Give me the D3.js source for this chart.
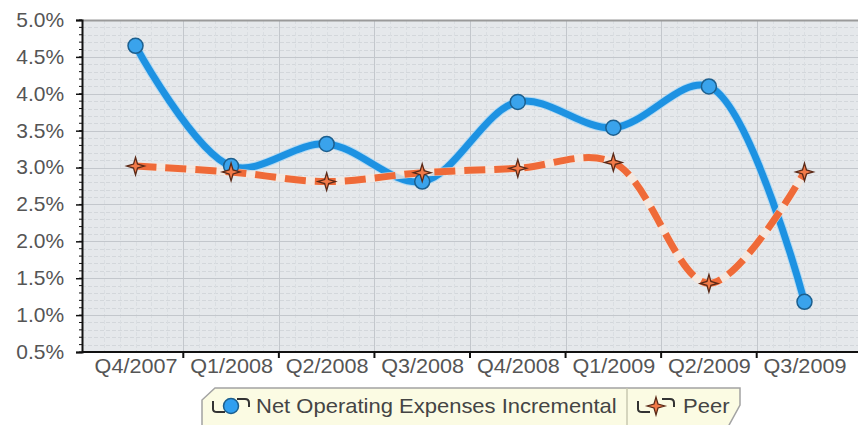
<!DOCTYPE html>
<html><head><meta charset="utf-8">
<script src="https://cdn.jsdelivr.net/npm/d3@7/dist/d3.min.js"></script>
<style>body{margin:0;background:#fff}svg{display:block}text{font-family:"Liberation Sans",Arial,sans-serif}</style>
</head><body><svg id="c" width="859" height="425"></svg>
<script>
const categories = ["Q4/2007","Q1/2008","Q2/2008","Q3/2008","Q4/2008","Q1/2009","Q2/2009","Q3/2009"];
const netOpEx = [4.65, 3.02, 3.32, 2.81, 3.89, 3.54, 4.10, 1.18];
const peer = [3.02, 2.94, 2.81, 2.93, 2.99, 3.07, 1.43, 2.94];
const yTicks = [0.5,1.0,1.5,2.0,2.5,3.0,3.5,4.0,4.5,5.0];
const seriesNames = ["Net Operating Expenses Incremental","Peer"];

const svg = d3.select("#c");
const L=82, R=858, T=20, B=352;
const x = d3.scalePoint().domain(categories).range([L,R]).padding(0.56);
const y = d3.scaleLinear().domain([0.5,5.0]).range([B,T]);
const step = x.step();

// plot background
svg.append("rect").attr("x",L).attr("y",T).attr("width",R-L).attr("height",B-T).attr("fill","#e5e8eb");
const g = svg.append("g");
// minor grid
const minorY = d3.range(0.5,5.0001,0.1);
g.selectAll(".my").data(minorY).join("line").attr("x1",L).attr("x2",R)
 .attr("y1",d=>Math.round(y(d))+0.5).attr("y2",d=>Math.round(y(d))+0.5)
 .attr("stroke","#d3d7db").attr("stroke-dasharray","4,2");
const minorX = [];
for(let i=-1;i<categories.length+1;i++){ for(let k=1;k<6;k++){ const v=x(categories[0])-step/2+i*step+k*step/6; if(v>L+2&&v<R-2) minorX.push(v);} }
g.selectAll(".mx").data(minorX).join("line").attr("y1",T).attr("y2",B)
 .attr("x1",d=>Math.round(d)+0.5).attr("x2",d=>Math.round(d)+0.5)
 .attr("stroke","#dadee2").attr("stroke-dasharray","4,2");
// major grid
g.selectAll(".gy").data(yTicks).join("line").attr("x1",L).attr("x2",R)
 .attr("y1",d=>Math.round(y(d))+0.5).attr("y2",d=>Math.round(y(d))+0.5).attr("stroke","#c3c7cc");
const majorX = categories.slice(0,-1).map((c,i)=>(x(c)+x(categories[i+1]))/2);
g.selectAll(".gx").data(majorX).join("line").attr("y1",T).attr("y2",B)
 .attr("x1",d=>Math.round(d)+0.5).attr("x2",d=>Math.round(d)+0.5).attr("stroke","#c3c7cc");
// top border
svg.append("line").attr("x1",L).attr("x2",R).attr("y1",T+0.5).attr("y2",T+0.5).attr("stroke","#9a9a9a").attr("stroke-width",2);

// y axis
const yAxis = d3.axisLeft(y).tickValues(yTicks).tickFormat(d=>d3.format(".1f")(d)+"%").tickSize(6).tickPadding(11);
const ya = svg.append("g").attr("transform",`translate(${L},0)`).call(yAxis);
ya.select(".domain").attr("stroke","#111").attr("stroke-width",2);
ya.selectAll(".tick line").attr("stroke","#111").attr("stroke-width",1.5);
ya.selectAll("text").attr("font-size",20).attr("fill","#555").attr("font-family","Liberation Sans, Arial, sans-serif")
 .attr("transform","scale(1.05,1)");
// minor y ticks
svg.append("g").selectAll("line").data(minorY).join("line").attr("x1",L-3).attr("x2",L)
 .attr("y1",d=>y(d)).attr("y2",d=>y(d)).attr("stroke","#111");

// x axis
const xAxis = d3.axisBottom(x).tickSize(0).tickPadding(7);
const xa = svg.append("g").attr("transform",`translate(0,${B})`).call(xAxis);
xa.select(".domain").remove();
xa.selectAll("text").attr("font-size",20).attr("fill","#555").attr("font-family","Liberation Sans, Arial, sans-serif")
 .attr("transform","scale(1.08,1)");
svg.append("line").attr("x1",L).attr("x2",R).attr("y1",B).attr("y2",B).attr("stroke","#111").attr("stroke-width",2);
svg.append("g").selectAll("line").data(majorX).join("line").attr("x1",d=>d).attr("x2",d=>d)
 .attr("y1",B).attr("y2",B+6).attr("stroke","#111").attr("stroke-width",2);

// lines
const line = d3.line().x((d,i)=>x(categories[i])).y(d=>y(d)).curve(d3.curveCatmullRom.alpha(0.5));
svg.append("path").attr("d",line(netOpEx)).attr("fill","none").attr("stroke","#9fd4f6").attr("stroke-width",9).attr("opacity",0.7);
svg.append("path").attr("d",line(netOpEx)).attr("fill","none").attr("stroke","#1d92e2").attr("stroke-width",7).attr("stroke-linecap","round");
svg.append("path").attr("d",line(peer)).attr("fill","none").attr("stroke","#f7e9de").attr("stroke-width",8).attr("opacity",0.8);
svg.append("path").attr("d",line(peer)).attr("fill","none").attr("stroke","#ef6a38").attr("stroke-width",7).attr("stroke-dasharray","21,9");

// star symbol (4-point)
const star4 = {draw(ctx,size){const ro=Math.sqrt(size)/1.6, ri=ro*0.32;
 for(let k=0;k<8;k++){const a=-Math.PI/2+k*Math.PI/4, r=k%2?ri:ro; const px=r*Math.cos(a), py=r*Math.sin(a); k?ctx.lineTo(px,py):ctx.moveTo(px,py);} ctx.closePath();}};
// markers
svg.append("g").selectAll("circle").data(netOpEx).join("circle").attr("cx",(d,i)=>x(categories[i])).attr("cy",d=>y(d))
 .attr("r",7.5).attr("fill","#3aa3ec").attr("stroke","#1c5f8e").attr("stroke-width",1.5);
svg.append("g").selectAll("path").data(peer).join("path").attr("transform",(d,i)=>`translate(${x(categories[i])},${y(d)})`)
 .attr("d",d3.symbol().type(star4).size(200)).attr("fill","#f27a48").attr("stroke","#5a2a18").attr("stroke-width",1.3);

// legend
const lg = svg.append("g");
const lx0=202, lx1=740, ly0=388, ly1=425, sep=627;
lg.append("path").attr("d",`M${lx0},${ly1+2} L${lx0},${ly0+12} L${lx0+13},${ly0} L${lx1},${ly0} L${lx1},${ly1-20} L${lx1-12},${ly1+2}`)
 .attr("fill","#fbfbe3").attr("stroke","#a3a3a3").attr("stroke-width",1.5);
lg.append("line").attr("x1",sep).attr("x2",sep).attr("y1",ly0).attr("y2",ly1).attr("stroke","#c9c9b0").attr("stroke-width",1.5);
const ly = 406;
function icon(cx){ lg.append("path").attr("d",`M${cx-18},${ly-5} L${cx-18},${ly+3} Q${cx-18},${ly+6} ${cx-14},${ly+6} L${cx-6},${ly+6} M${cx+6},${ly-7} L${cx+14},${ly-7} Q${cx+18},${ly-7} ${cx+18},${ly-3} L${cx+18},${ly+1}`)
 .attr("fill","none").attr("stroke","#333").attr("stroke-width",2); }
icon(231);
lg.append("circle").attr("cx",231).attr("cy",ly).attr("r",7.5).attr("fill","#2f9ff0").attr("stroke","#1c5f8e").attr("stroke-width",1.5);
lg.append("text").attr("transform",`translate(256,${ly+7}) scale(1.1,1)`).attr("font-size",20).attr("fill","#444").text(seriesNames[0]);
icon(656);
lg.append("path").attr("transform",`translate(656,${ly})`).attr("d",d3.symbol().type(star4).size(200)).attr("fill","#f27a48").attr("stroke","#5a2a18").attr("stroke-width",1.3);
lg.append("text").attr("transform",`translate(683,${ly+7}) scale(1.1,1)`).attr("font-size",20).attr("fill","#444").text(seriesNames[1]);
</script></body></html>
